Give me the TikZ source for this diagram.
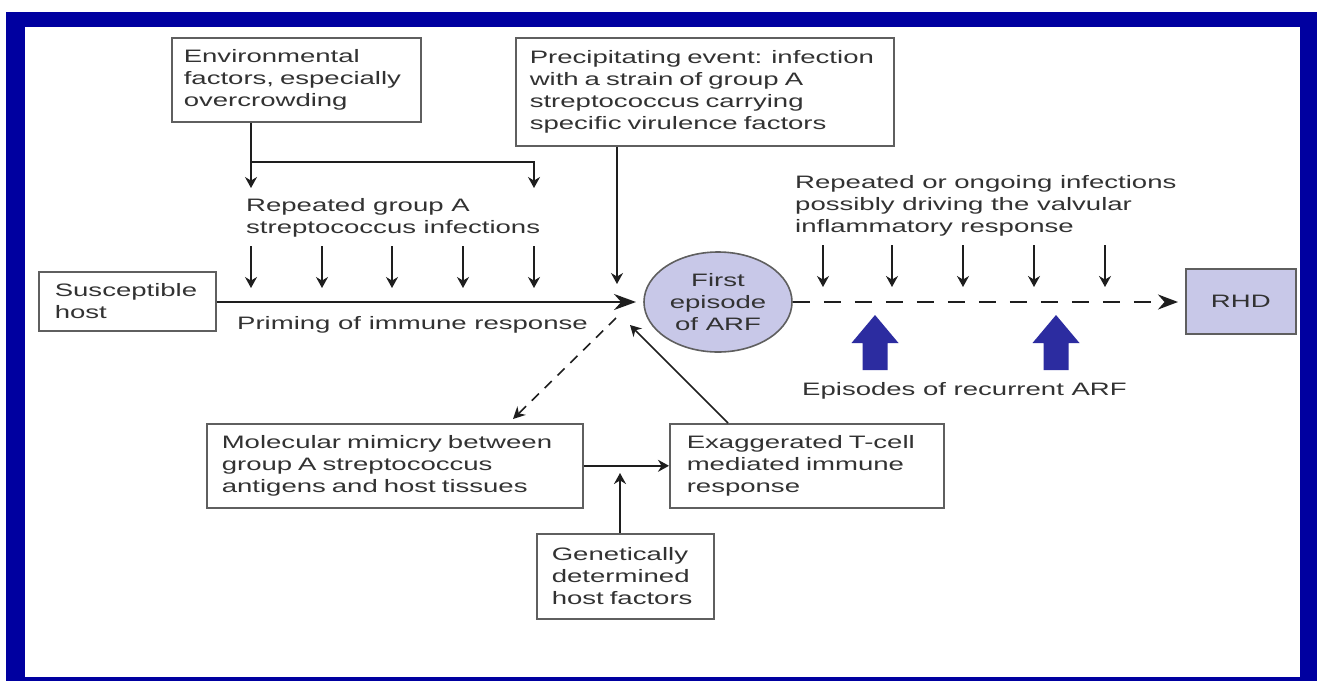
\documentclass[tikz,border=0pt]{standalone}
\usepackage{fontspec}
\setmainfont[FakeStretch=1.53]{Liberation Sans}
\usetikzlibrary{arrows.meta,shapes.geometric}
\definecolor{frameblue}{RGB}{0,0,160}
\definecolor{arrowblue}{RGB}{44,44,160}
\definecolor{lav}{RGB}{200,200,232}
\definecolor{txt}{RGB}{50,50,50}
\definecolor{edge}{RGB}{95,95,95}
\definecolor{ln}{RGB}{30,30,30}
\begin{document}
\begin{tikzpicture}[x=1pt,y=-1pt,
  every node/.style={font=\fontsize{18}{22}\selectfont, text=txt},
  box/.style={draw=edge, line width=1.6pt, fill=white, anchor=north west, align=left, inner ysep=0pt},
  lbl/.style={align=left, inner sep=0pt},
  arr/.style={draw=ln, line width=1.6pt, -{Stealth[length=11pt,width=12pt]}},
  bigarr/.style={draw=ln, line width=2.2pt, -{Stealth[length=22pt,width=16pt]}},
  dasharr/.style={draw=ln, line width=2.2pt, dash pattern=on 17pt off 14pt, -{Stealth[length=20pt,width=15pt]}},
  diagdash/.style={draw=ln, line width=1.6pt, dash pattern=on 10pt off 8pt, -{Stealth[length=12pt,width=12pt]}}
]
\useasboundingbox (0,0) rectangle (1317,681);
% frame
\fill[frameblue] (6,12) rectangle (1317,681);
\fill[white] (25,27) rectangle (1300,677);

% boxes
\node[box, text width=225pt, inner xsep=12pt, minimum height=84pt] (env) at (171,37)
  {Environmental\\factors, especially\\overcrowding};
\node[box, text width=350pt, inner xsep=14pt, minimum height=108pt] (prec) at (515,37)
  {Precipitating event: infection\\with a strain of group A\\streptococcus carrying\\specific virulence factors};
\node[box, text width=145pt, inner xsep=16pt, minimum height=59pt] (susc) at (38,271)
  {Susceptible\\host};
\node[box, text width=346pt, inner xsep=15pt, minimum height=84pt] (mol) at (206,423)
  {Molecular mimicry between\\group A streptococcus\\antigens and host tissues};
\node[box, text width=240pt, inner xsep=17pt, minimum height=84pt] (exag) at (669,423)
  {Exaggerated T-cell\\mediated immune\\response};
\node[box, text width=147pt, inner xsep=15pt, minimum height=85pt] (gen) at (536,533)
  {Genetically\\determined\\host factors};
\node[box, fill=lav, align=center, minimum width=110pt, minimum height=65pt, inner sep=0pt] (rhd) at (1185,268) {RHD};
\node[ellipse, draw=edge, fill=lav, line width=1.6pt, minimum width=148pt, minimum height=100pt, align=center, inner sep=0pt] (arf) at (718,302)
  {First\\episode\\of ARF};

% labels
\node[lbl, anchor=north west] (rep) at (246,198) {Repeated group A\\streptococcus infections};
\node[lbl, anchor=base west] (prim) at (237,329) {Priming of immune response};
\node[lbl, anchor=north west] (ongo) at (795,175) {Repeated or ongoing infections\\possibly driving the valvular\\inflammatory response};
\node[lbl, anchor=base west] (epi) at (802,395) {Episodes of recurrent ARF};

% environmental arrows
\coordinate (e1) at (251,188);
\coordinate (ej) at (251,162);
\coordinate (e2) at (534,188);
\draw[arr] (env.south -| e1) -- (e1);
\draw[arr] (ej) -| (e2);

% repeated infection arrows (left)
\foreach \x [count=\i] in {251,322,392,463,534} {
  \coordinate (ls\i) at (\x,246);
  \coordinate (lt\i) at (\x,288);
  \draw[arr] (ls\i) -- (lt\i);
}
% repeated infection arrows (right)
\foreach \x [count=\i] in {823,892,963,1034,1105} {
  \coordinate (rs\i) at (\x,245);
  \coordinate (rt\i) at (\x,287);
  \draw[arr] (rs\i) -- (rt\i);
}

% main line
\coordinate (mtip) at (636,302);
\draw[bigarr] (susc.east |- mtip) -- (mtip);
% precipitating arrow
\coordinate (ptip) at (617,284);
\draw[arr] (prec.south -| ptip) -- (ptip);
% dashed to RHD
\draw[dasharr, shorten >=7pt] (arf.east |- mtip) -- (rhd.west |- mtip);

% diagonal connectors
\coordinate (ds) at (616,318);
\coordinate (dt) at (513,419);
\draw[diagdash] (ds) -- (dt);
\coordinate (xs) at (728,423);
\coordinate (xt) at (630,325);
\draw[arr] (xs) -- (xt);

% mimicry -> exaggerated
\draw[arr] (mol.east) -- (exag.west);
% genetic -> line
\coordinate (gt) at (620,473);
\draw[arr] (gen.north -| gt) -- (gt);

% blue arrows
\foreach \cx in {875,1056} {
  \fill[arrowblue] (\cx-12.5,370) -- (\cx-12.5,343) -- (\cx-23.5,343) -- (\cx,315)
     -- (\cx+23.5,343) -- (\cx+12.5,343) -- (\cx+12.5,370) -- cycle;
}
\end{tikzpicture}
\end{document}
